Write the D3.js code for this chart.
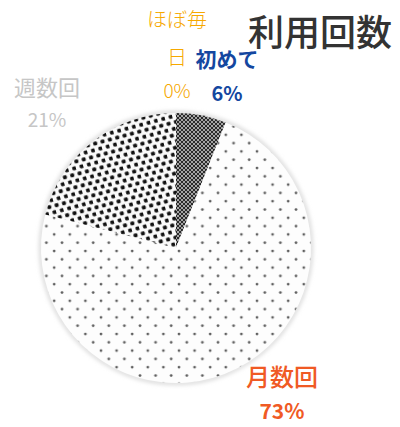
<!DOCTYPE html>
<html>
<head>
<meta charset="utf-8">
<script src="https://cdn.jsdelivr.net/npm/d3@7"></script>
<style>
  body { margin: 0; background: #fff; }
  svg { display: block; font-family: "Noto Sans CJK JP", "Noto Sans", sans-serif; }
</style>
</head>
<body>
<svg id="chart" width="400" height="427"></svg>
<script>
let categories = ['初めて', '月数回', 'ほぼ毎日', '週数回']
let values = [6, 73, 0, 21]
let valueLabels = ['6%', '73%', '0%', '21%']
let title = '利用回数'

let svg = d3.select('#chart')
let cx = 176, cy = 248, radius = 135

// fill patterns that imitate the printed halftone
let defs = svg.append('defs')

let p1 = defs.append('pattern')
    .attr('id', 'pat_hatch')
    .attr('patternUnits', 'userSpaceOnUse')
    .attr('width', 4).attr('height', 4)
p1.append('rect').attr('width', 4).attr('height', 4).attr('fill', '#a4a4a4')
p1.append('path').attr('d', 'M0,0 L4,4 M4,0 L0,4').attr('stroke', '#2a2a2a').attr('stroke-width', 1)

let p2 = defs.append('pattern')
    .attr('id', 'pat_sparse')
    .attr('patternUnits', 'userSpaceOnUse')
    .attr('width', 15.6).attr('height', 16.6)
p2.append('rect').attr('width', 15.6).attr('height', 16.6).attr('fill', '#fdfdfd')
p2.append('circle').attr('cx', 3).attr('cy', 3).attr('r', 1.4).attr('fill', '#5e5e5e')
p2.append('circle').attr('cx', 10.8).attr('cy', 11.3).attr('r', 1.4).attr('fill', '#5e5e5e')

let p4 = defs.append('pattern')
    .attr('id', 'pat_dense')
    .attr('patternUnits', 'userSpaceOnUse')
    .attr('width', 7.6).attr('height', 12.4)
    .attr('patternTransform', 'rotate(-15)')
p4.append('rect').attr('width', 7.6).attr('height', 12.4).attr('fill', '#fafafa')
p4.append('rect').attr('x', 0.2).attr('y', 0.3).attr('width', 4).attr('height', 3.7).attr('rx', 1.1).attr('fill', '#111')
p4.append('rect').attr('x', 4).attr('y', 6.5).attr('width', 4).attr('height', 3.7).attr('rx', 1.1).attr('fill', '#111')

let fills = ['url(#pat_hatch)', 'url(#pat_sparse)', '#fff', 'url(#pat_dense)']

let blur = defs.append('filter').attr('id', 'soft')
    .attr('x', '-10%').attr('y', '-10%').attr('width', '120%').attr('height', '120%')
blur.append('feGaussianBlur').attr('stdDeviation', 2)

let pie = d3.pie().sort(null).value(d => d)
let arc = d3.arc().innerRadius(0).outerRadius(radius)

let g = svg.append('g').attr('transform', `translate(${cx},${cy})`)

// soft grey rim
g.append('circle')
    .attr('r', radius)
    .attr('fill', 'none')
    .attr('stroke', '#d8d8d8')
    .attr('stroke-width', 4)
    .attr('filter', 'url(#soft)')

g.selectAll('.slice')
    .data(pie(values))
    .enter().append('path')
    .attr('class', 'slice')
    .attr('d', arc)
    .attr('fill', (d, i) => fills[i])

// label placement (name lines, x, first baseline, percent baseline)
let labelStyle = [
    {lines: ['初めて'], x: 227, y: 67, py: 101, color: '#1447a0', size: 21, psize: 20, weight: 700, pweight: 700},
    {lines: ['月数回'], x: 282, y: 386, py: 419, color: '#f05a24', size: 24, psize: 21, weight: 500, pweight: 700},
    {lines: ['ほぼ毎', '日'], x: 177, y: 27, py: 98, color: '#f6a800', size: 20, psize: 19, weight: 300, pweight: 300, lh: 38},
    {lines: ['週数回'], x: 47, y: 96, py: 127, color: '#c6c6c6', size: 22, psize: 19, weight: 400, pweight: 400}
]

let labels = svg.selectAll('.label')
    .data(categories)
    .enter().append('g')
    .attr('class', 'label')

labels.each(function(d, i) {
    let s = labelStyle[i]
    let t = d3.select(this)
    s.lines.forEach((line, k) => {
        t.append('text')
            .attr('x', s.x)
            .attr('y', s.y + k * (s.lh || 0))
            .attr('text-anchor', 'middle')
            .attr('fill', s.color)
            .attr('font-size', s.size)
            .attr('font-weight', s.weight)
            .text(line)
    })
    t.append('text')
        .attr('x', s.x)
        .attr('y', s.py)
        .attr('text-anchor', 'middle')
        .attr('fill', s.color)
        .attr('font-size', s.psize)
        .attr('font-weight', s.pweight)
        .text(valueLabels[i])
})

svg.append('text')
    .attr('x', 320)
    .attr('y', 46)
    .attr('text-anchor', 'middle')
    .attr('fill', '#333')
    .attr('font-size', 36)
    .attr('font-weight', 500)
    .text(title)
</script>
</body>
</html>
